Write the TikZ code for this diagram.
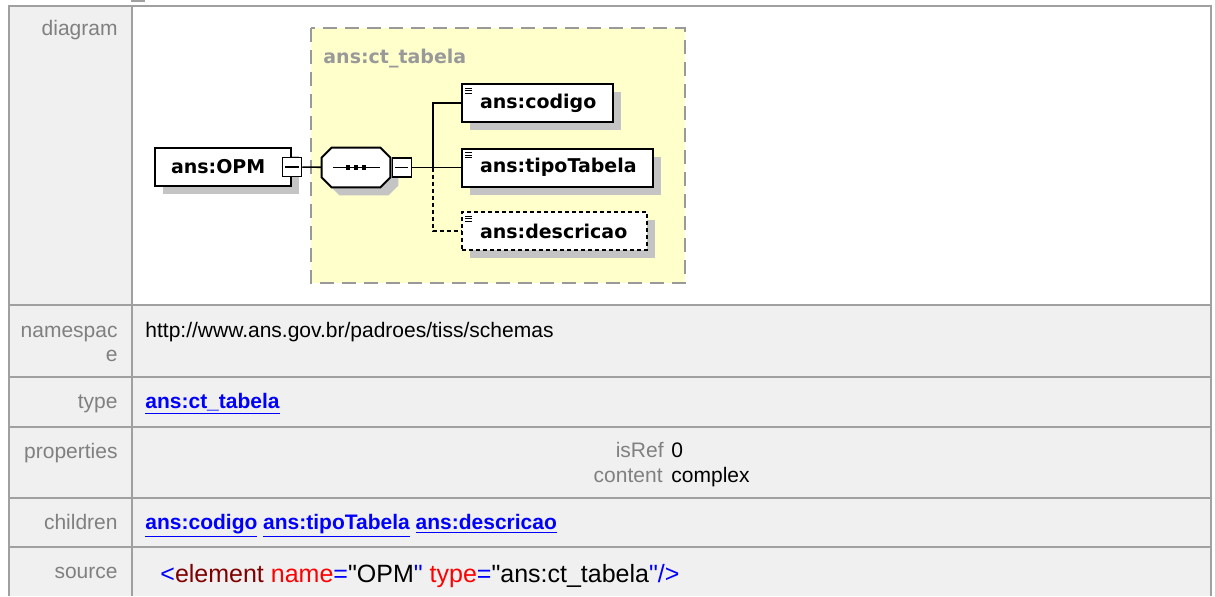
\documentclass[tikz,border=0pt]{standalone}
\usepackage{fontspec}
\setmainfont{Liberation Sans}
\newfontfamily\srcfont{Liberation Sans}[Ligatures=TeXOff]
\newfontfamily\xsdfont{DejaVu Sans}
\usetikzlibrary{positioning,shadows}
\definecolor{cellgray}{HTML}{F0F0F0}
\definecolor{linegray}{HTML}{A0A0A0}
\definecolor{labelgray}{HTML}{808080}
\definecolor{boxyellow}{HTML}{FFFFCC}
\definecolor{dashgray}{HTML}{999999}
\definecolor{shadegray}{HTML}{C4C4C4}
\definecolor{linkblue}{HTML}{0000FF}
\definecolor{tagred}{HTML}{800000}
\definecolor{attred}{HTML}{FF0000}
\begin{document}
\begin{tikzpicture}[x=0.5pt,y=-0.5pt,
	every node/.style={inner sep=0pt},
	grid/.style={draw=linegray,line width=1pt},
	lbl/.style={anchor=base east,text=labelgray,font=\fontsize{10.5}{12}\selectfont},
	val/.style={anchor=base west,font=\fontsize{10.5}{12}\selectfont},
	lnk/.style={val,text=linkblue,font=\fontsize{10.5}{12}\selectfont\bfseries},
	xsdtext/.style={font=\xsdfont\bfseries\fontsize{9.5}{11}\selectfont},
	shade/.style={drop shadow={shadow xshift=4pt,shadow yshift=-4pt,fill=shadegray,opacity=1}},
	elem/.style={draw,fill=white,line width=1pt,minimum height=19pt,text width=#1,align=left,
		inner xsep=9pt,xsdtext,shade},
	child/.style={elem=#1,
		path picture={\foreach \k in {2,3.25,4.5}
			\draw[solid,line width=0.5pt] ([xshift=1.6pt,yshift=-\k pt]path picture bounding box.north west) -- ++(3.6pt,0);}},
	minus/.style={draw,fill=white,line width=0.75pt,minimum size=9.5pt,
		path picture={\draw[line width=0.7pt] ([xshift=-3.3pt]path picture bounding box.center) -- ([xshift=3.3pt]path picture bounding box.center);}},
	seqbox/.style={minimum width=34pt,minimum height=19.5pt},
	link/.style={line width=0.8pt},
	]
	\useasboundingbox (0,0) rectangle (1215,596);
	% table
	\fill[white] (0,0) rectangle (1215,596);
	\fill[cellgray] (9,6) rectangle (1211,596);
	\fill[white] (133,7) rectangle (1210,304);
	\fill[linegray] (131,0) rectangle (145,2);
	\draw[grid] (9,596) -- (9,6) -- (1211,6) -- (1211,596);
	\draw[grid] (132,6) -- (132,596);
	\foreach \y in {305,377,427,498,547}
		\draw[grid] (9,\y) -- (1211,\y);
	\node[lbl] (diagram) at (118,35) {diagram};
	\node[lbl,align=right] (namespace) at (118,361) {namespac\\e};
	\node[lbl] (type) at (118,408) {type};
	\node[lbl] (properties) at (118,458) {properties};
	\node[lbl] (children) at (118,529) {children};
	\node[lbl] (source) at (118,578) {source};
	\node[val] (nsval) at (145,337) {http://www.ans.gov.br/padroes/tiss/schemas};
	\node[lnk] (typeval) at (145,408) {\underline{ans:ct\_tabela}};
	\node[lbl] (isref) at (664,457) {isRef};
	\node[val] (isrefval) at (671,457) {0};
	\node[lbl] (content) at (663,482) {content};
	\node[val] (contentval) at (671,482) {complex};
	\node[lnk] (kids) at (145,529) {\underline{ans:codigo} \underline{ans:tipoTabela} \underline{ans:descricao}};
	\node[val,font=\srcfont\fontsize{12.5}{14}\selectfont] (src) at (160,582) {\textcolor{linkblue}{<}\textcolor{tagred}{element} \textcolor{attred}{name}\textcolor{linkblue}{=}"OPM\textcolor{linkblue}{"} \textcolor{attred}{type}\textcolor{linkblue}{=}"ans:ct\_tabela\textcolor{linkblue}{"/>}};
	% diagram
	\draw[fill=boxyellow,draw=dashgray,line width=1pt,dash pattern=on 7pt off 4pt] (311,28) rectangle (685,283);
	\node[xsdtext,text=dashgray,anchor=base west] (cttabela) at (323,63) {ans:ct\_tabela};
	\node[elem=52pt,inner xsep=8pt] (opm) at (223,167) {ans:OPM};
	\node[minus] (opmminus) at (opm.east) {};
	\node[seqbox] (seq) at (356,167.5) {};
	\draw[fill=white,line width=1pt,shade] ([xshift=5pt]seq.north west) -- ([xshift=-5pt]seq.north east)
		-- ([yshift=-5pt]seq.north east) -- ([yshift=5pt]seq.south east) -- ([xshift=-5pt]seq.south east)
		-- ([xshift=5pt]seq.south west) -- ([yshift=5pt]seq.south west) -- ([yshift=-5pt]seq.north west) -- cycle;
	\draw[line width=0.6pt] ([xshift=-11.5pt]seq.center) -- ([xshift=12pt]seq.center);
	\foreach \dx in {-4,0,4}
		\fill ([xshift=\dx pt]seq.center) +(-1.2pt,-1.2pt) rectangle +(1.2pt,1.2pt);
	\node[minus,right=0.6pt of seq] (seqminus) {};
	\coordinate (branch) at (433,167.5);
	\node[child=57.5pt] (codigo) at (537.5,103) {ans:codigo};
	\node[child=77.5pt] (tipo) at (557.5,167.5) {ans:tipoTabela};
	\node[child=74.5pt,dash pattern=on 2pt off 1.5pt] (descricao) at (554.5,231) {ans:descricao};
	\draw[link] (opmminus) -- (seq);
	\draw[link] (seqminus) -- (branch);
	\draw[link] (branch) |- (codigo.west);
	\draw[link] (branch) -- (tipo.west);
	\draw[link,dash pattern=on 2pt off 1.5pt] (branch) |- (descricao.west);
\end{tikzpicture}
\end{document}
